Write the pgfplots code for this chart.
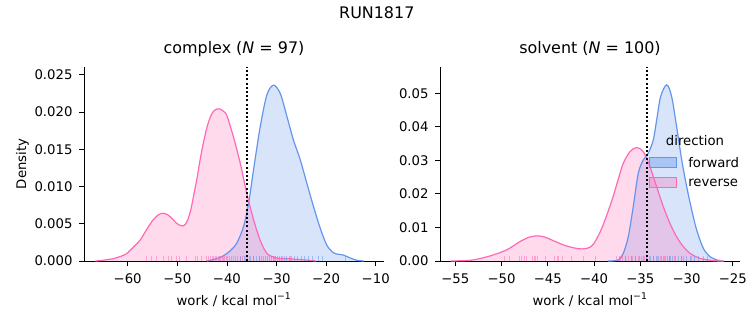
\documentclass[border=0pt]{standalone}
\usepackage{pgfplots}
\pgfplotsset{compat=1.18}
\usepackage{pgfplotstable}
\usepackage{fontspec}
\setmainfont{DejaVu Sans}
\definecolor{fwd}{RGB}{100,149,237}
\definecolor{rev}{RGB}{255,105,180}

% complex, reverse KDE
\pgfplotstableread{
x y
-66.5 0
-65.0 0.0001
-63.0 0.0003
-61.5 0.0006
-60.2 0.0010
-58.8 0.0019
-57.5 0.0028
-56.2 0.0042
-54.9 0.0055
-53.8 0.0062
-52.9 0.0064
-51.9 0.0062
-50.9 0.0056
-50.2 0.0051
-49.5 0.0048
-48.9 0.0047
-48.3 0.0050
-47.8 0.0057
-47.3 0.0068
-46.7 0.0088
-46.0 0.0112
-45.4 0.0136
-44.7 0.0160
-44.0 0.0180
-43.3 0.0194
-42.7 0.0201
-42.0 0.0204
-41.4 0.0204
-40.7 0.0201
-40.0 0.0195
-38.7 0.0167
-37.3 0.0131
-36.0 0.0091
-34.6 0.0055
-33.3 0.0028
-31.9 0.0010
-29.9 0.0004
-27.5 0.0003
-25.5 0.0002
-23.5 0.0001
-22.0 0
}\crev
% complex, forward KDE
\pgfplotstableread{
x y
-44.0 0
-42.7 0.0002
-41.3 0.0005
-40.0 0.0010
-39.0 0.0016
-38.0 0.0024
-36.65 0.0046
-35.64 0.0077
-34.64 0.0122
-33.29 0.0180
-31.94 0.0223
-30.6 0.0236
-29.25 0.0225
-27.9 0.0194
-26.57 0.0162
-25.22 0.0136
-23.87 0.0104
-22.54 0.0073
-21.19 0.0044
-19.84 0.0021
-18.51 0.0011
-17.5 0.0009
-16.5 0.0008
-15.14 0.0004
-13.8 0.0001
-12.4 0
}\cfwd
% solvent, reverse KDE
\pgfplotstableread{
x y
-55.5 0
-54.0 0.0001
-53.06 0.0003
-51.25 0.0015
-49.45 0.0033
-48.0 0.0058
-47.0 0.0071
-46.2 0.0075
-45.4 0.0072
-44.77 0.0065
-43.0 0.0045
-41.34 0.0036
-40.2 0.0046
-39.2 0.0095
-38.1 0.0178
-37.4 0.0242
-36.84 0.0291
-36.11 0.0326
-35.4 0.0338
-34.68 0.0326
-33.95 0.0281
-33.23 0.0221
-32.51 0.0162
-31.79 0.0112
-31.07 0.0072
-30.35 0.0043
-29.63 0.0023
-28.55 0.0008
-27.1 0.0001
-26.0 0
}\srev
% solvent, forward KDE
\pgfplotstableread{
x y
-38.5 0
-37.38 0.0003
-36.84 0.0023
-36.30 0.0072
-35.76 0.0162
-35.22 0.0261
-34.68 0.0301
-34.14 0.0321
-33.59 0.0361
-33.23 0.0420
-32.80 0.0490
-32.15 0.0525
-31.61 0.0490
-31.07 0.0400
-30.52 0.0301
-29.98 0.0221
-29.44 0.0152
-28.90 0.0092
-28.19 0.0038
-27.46 0.0013
-26.57 0.0002
-26.0 0
}\sfwd
% rug data
\pgfplotstableread{
x
-56.2
-55.2
-54.3
-52.8
-51.8
-51.1
-50.1
-49.5
-48.1
-46.4
-46.0
-45.1
-44.1
-43.8
-43.4
-43.0
-42.7
-42.4
-42.1
-41.8
-41.6
-41.3
-41.0
-40.8
-40.5
-40.2
-39.9
-39.5
-39.1
-38.7
-38.3
-37.8
-37.3
-36.8
-36.2
-35.5
-34.6
-33.5
-30.5
-28.8
-27.3
}\crevrug
\pgfplotstableread{
x
-37.2
-36.4
-35.8
-35.2
-34.6
-34.0
-33.5
-33.0
-32.6
-32.2
-31.8
-31.4
-31.0
-30.6
-30.2
-29.8
-29.4
-29.0
-28.5
-28.0
-27.5
-27.0
-26.4
-25.8
-25.0
-24.4
-23.6
-22.8
-21.5
-20.8
-16.2
}\cfwdrug
\pgfplotstableread{
x
-49.7
-49.2
-48.1
-47.8
-47.5
-47.3
-46.7
-46.5
-46.3
-46.1
-45.3
-44.3
-44.0
-43.8
-43.4
-42.5
-41.1
-39.9
-37.6
-37.2
-36.9
-36.6
-36.3
-36.0
-35.8
-35.5
-35.2
-34.9
-34.6
-34.3
-34.0
-33.6
-33.2
-32.8
-32.4
-31.9
-31.3
-30.6
-29.5
}\srevrug
\pgfplotstableread{
x
-37.3
-36.6
-36.0
-35.5
-35.1
-34.7
-34.3
-33.9
-33.6
-33.3
-33.0
-32.7
-32.5
-32.3
-32.1
-31.9
-31.7
-31.5
-31.2
-30.9
-30.6
-30.3
-30.0
-29.6
-29.2
-28.7
-28.2
-27.7
}\sfwdrug
\pgfplotstablecreatecol[create col/set={0.00065}]{h}\crevrug
\pgfplotstablecreatecol[create col/set={0.00065}]{h}\cfwdrug
\pgfplotstablecreatecol[create col/set={0.00145}]{h}\srevrug
\pgfplotstablecreatecol[create col/set={0.00145}]{h}\sfwdrug

\pgfplotsset{
  kde/.style={
    width=300bp, height=194bp, scale only axis,
    axis lines*=left,
    axis line style={line width=0.8bp, black},
    tick align=outside, major tick length=4.9bp,
    every tick/.style={black, line width=0.8bp},
    xtick pos=bottom, ytick pos=left,
    scaled y ticks=false, scaled x ticks=false,
    ymin=0,
    tick label style={font=\fontsize{13.3}{16}\selectfont, inner sep=0pt},
    xticklabel style={anchor=north, yshift=-7.4bp},
    yticklabel style={anchor=east, xshift=-6.4bp},
    label style={font=\fontsize{13.3}{16}\selectfont},
    xlabel style={at={(axis description cs:0.5,-0.2268)}, anchor=base},
    title style={font=\fontsize{16}{19}\selectfont, at={(axis description cs:0.5,1.0397)}, anchor=base},
    xlabel={work / kcal mol\textsuperscript{−1}},
  },
  fillrev/.style={draw=none, fill=rev, fill opacity=0.25},
  fillfwd/.style={draw=none, fill=fwd, fill opacity=0.25},
  linerev/.style={rev, line width=1.2bp, smooth},
  linefwd/.style={fwd, line width=1.2bp, smooth},
}

\begin{document}
\begin{tikzpicture}
\useasboundingbox (-84bp,-64bp) rectangle (669bp,261bp);
\node[font=\fontsize{16}{19}\selectfont, anchor=base] at (292.8bp,242bp) {RUN1817};

\begin{axis}[kde, at={(0,0)}, anchor=south west,
  xmin=-68.81, xmax=-8.33, ymax=0.02604,
  xtick={-60,-50,-40,-30,-20,-10},
  xticklabels={−60,−50,−40,−30,−20,−10},
  ytick={0,0.005,0.01,0.015,0.02,0.025},
  yticklabels={0.000,0.005,0.010,0.015,0.020,0.025},
  title={complex (\textit{N} = 97)},
  ylabel={Density},
  ylabel style={at={(axis description cs:-0.1933,0.5)}, anchor=base},
]
\addplot[fillfwd, smooth] table {\cfwd} \closedcycle;
\addplot[fillrev, smooth] table {\crev} \closedcycle;
\addplot[linefwd] table {\cfwd};
\addplot[linerev] table {\crev};
\addplot[ycomb, rev, opacity=0.5, line width=0.8bp, mark=none] table[x=x, y=h] {\crevrug};
\addplot[ycomb, fwd, opacity=0.5, line width=0.8bp, mark=none] table[x=x, y=h] {\cfwdrug};
\addplot[black, line width=2bp, dash pattern=on 2bp off 2.2bp] coordinates {(-35.95,0) (-35.95,0.02604)};
\end{axis}

\begin{axis}[kde, at={(356bp,0)}, anchor=south west,
  xmin=-56.65, xmax=-24.22, ymax=0.0578,
  xtick={-55,-50,-45,-40,-35,-30,-25},
  xticklabels={−55,−50,−45,−40,−35,−30,−25},
  ytick={0,0.01,0.02,0.03,0.04,0.05},
  yticklabels={0.00,0.01,0.02,0.03,0.04,0.05},
  title={solvent (\textit{N} = 100)},
]
\addplot[fillfwd, smooth] table {\sfwd} \closedcycle;
\addplot[fillrev, smooth] table {\srev} \closedcycle;
\addplot[linefwd] table {\sfwd};
\addplot[linerev] table {\srev};
\addplot[ycomb, rev, opacity=0.5, line width=0.8bp, mark=none] table[x=x, y=h] {\srevrug};
\addplot[ycomb, fwd, opacity=0.5, line width=0.8bp, mark=none] table[x=x, y=h] {\sfwdrug};
\addplot[black, line width=2bp, dash pattern=on 2bp off 2.2bp] coordinates {(-34.28,0) (-34.28,0.0578)};
% legend
\node[font=\fontsize{13.3}{16}\selectfont, anchor=center] at (rel axis cs:0.85,0.619) {direction};
\fill[fwd, fill opacity=0.4, draw=fwd, line width=1bp] (rel axis cs:0.698,0.483) rectangle (rel axis cs:0.789,0.535);
\fill[rev, fill opacity=0.3, draw=rev, line width=1bp] (rel axis cs:0.698,0.380) rectangle (rel axis cs:0.789,0.429);
\node[font=\fontsize{13.3}{16}\selectfont, anchor=west, inner sep=0pt] at (rel axis cs:0.827,0.510) {forward};
\node[font=\fontsize{13.3}{16}\selectfont, anchor=west, inner sep=0pt] at (rel axis cs:0.827,0.405) {reverse};
\end{axis}
\end{tikzpicture}
\end{document}
